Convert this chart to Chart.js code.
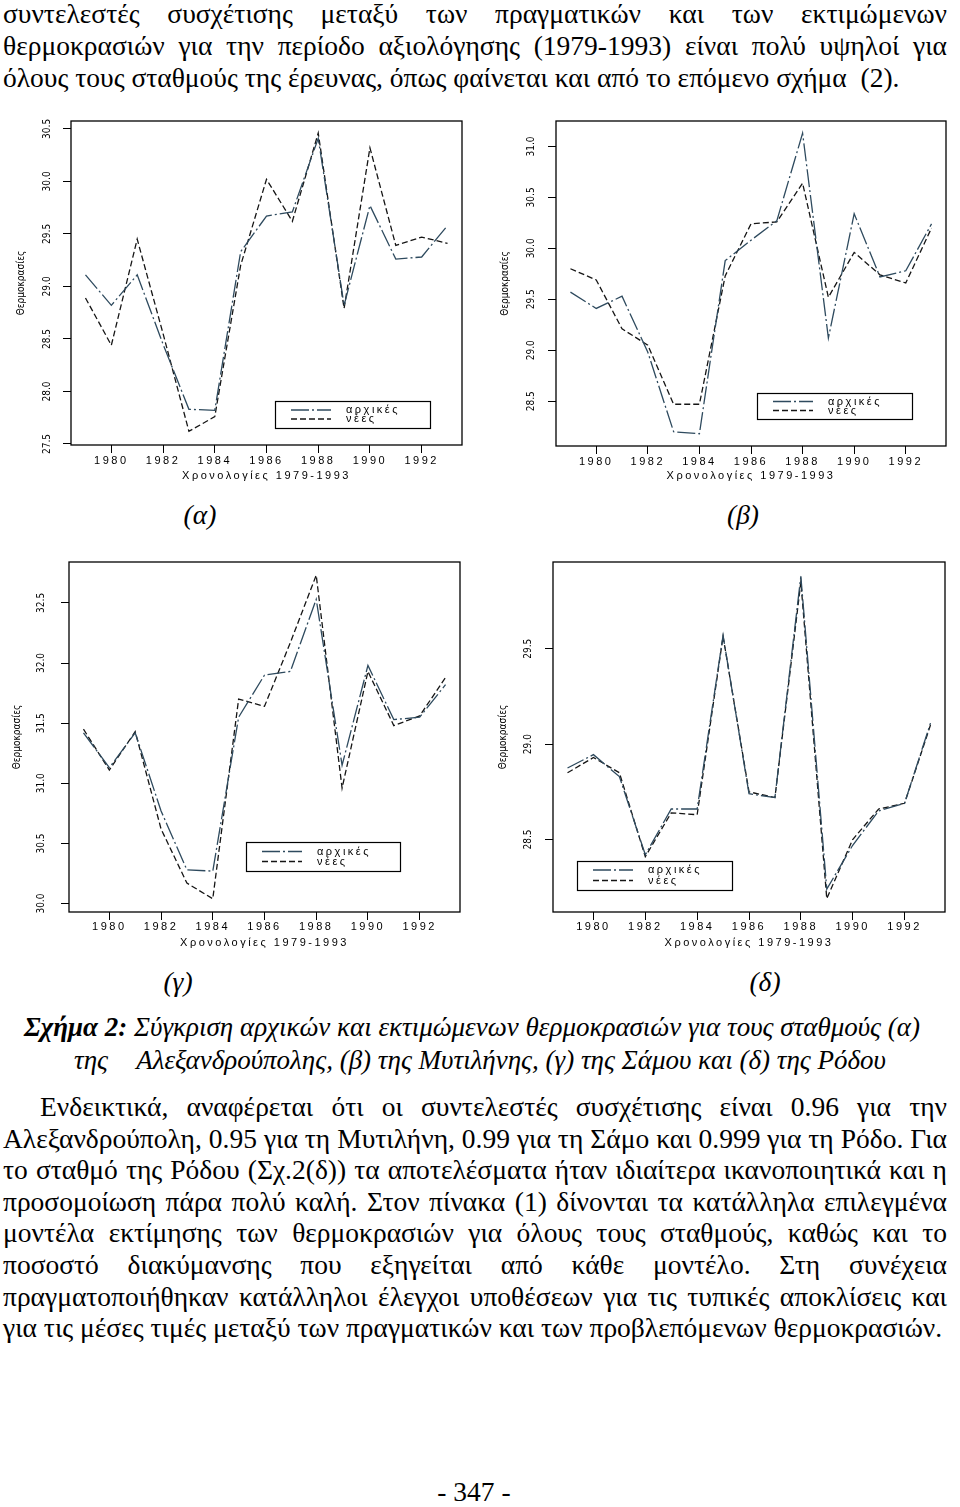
<!DOCTYPE html>
<html>
<head>
<meta charset="utf-8">
<script src="https://cdn.jsdelivr.net/npm/chart.js@4/dist/chart.umd.min.js"></script>
<style>
  html, body { margin: 0; padding: 0; background: #fff; }
  body { position: relative; width: 960px; height: 1507px; overflow: hidden;
         font-family: 'Liberation Serif', 'Times New Roman', serif; font-size: 27.5px; color: #000; }
  .t { position: absolute; line-height: 32px; }
  .j { text-align: justify; text-align-last: justify; }
  .c { text-align: center; }
  .i { font-style: italic; }
  .cap { font-size: 27px; }
  .plot { position: absolute; }
</style>
</head>
<body>

<div class="t j" style="left:3px; top:-2px; width:944px;">συντελεστές συσχέτισης μεταξύ των πραγματικών και των εκτιμώμενων</div>
<div class="t j" style="left:3px; top:30px; width:944px;">θερμοκρασιών για την περίοδο αξιολόγησης (1979-1993) είναι πολύ υψηλοί για</div>
<div class="t" style="left:3px; top:62px; width:950px;">όλους τους σταθμούς της έρευνας, όπως φαίνεται και από το επόμενο σχήμα &nbsp;(2).</div>

<div class="plot" style="left:0; top:110px;"><canvas id="chartA" width="480" height="380"></canvas></div>
<div class="plot" style="left:480px; top:110px;"><canvas id="chartB" width="480" height="380"></canvas></div>

<div class="t c i" style="left:150px; top:499px; width:100px;">(α)</div>
<div class="t c i" style="left:693px; top:499px; width:100px;">(β)</div>

<div class="plot" style="left:0; top:555px;"><canvas id="chartC" width="480" height="400"></canvas></div>
<div class="plot" style="left:480px; top:555px;"><canvas id="chartD" width="480" height="400"></canvas></div>

<div class="t c i" style="left:128px; top:966px; width:100px;">(γ)</div>
<div class="t c i" style="left:715px; top:966px; width:100px;">(δ)</div>

<div class="t c i cap" style="left:0; top:1011px; width:944px;"><b>Σχήμα 2:</b> Σύγκριση αρχικών και εκτιμώμενων θερμοκρασιών για τους σταθμούς (α)</div>
<div class="t c i cap" style="left:0; top:1044px; width:960px;">της<span style="display:inline-block; width:22px;"></span> Αλεξανδρούπολης, (β) της Μυτιλήνης, (γ) της Σάμου και (δ) της Ρόδου</div>

<div class="t j" style="left:40px; top:1091px; width:907px;">Ενδεικτικά, αναφέρεται ότι οι συντελεστές συσχέτισης είναι 0.96 για την</div>
<div class="t j" style="left:3px; top:1123px; width:944px;">Αλεξανδρούπολη, 0.95 για τη Μυτιλήνη, 0.99 για τη Σάμο και 0.999 για τη Ρόδο. Για</div>
<div class="t j" style="left:3px; top:1154px; width:944px;">το σταθμό της Ρόδου (Σχ.2(δ)) τα αποτελέσματα ήταν ιδιαίτερα ικανοποιητικά και η</div>
<div class="t j" style="left:3px; top:1186px; width:944px;">προσομοίωση πάρα πολύ καλή. Στον πίνακα (1) δίνονται τα κατάλληλα επιλεγμένα</div>
<div class="t j" style="left:3px; top:1217px; width:944px;">μοντέλα εκτίμησης των θερμοκρασιών για όλους τους σταθμούς, καθώς και το</div>
<div class="t j" style="left:3px; top:1249px; width:944px;">ποσοστό διακύμανσης που εξηγείται από κάθε μοντέλο. Στη συνέχεια</div>
<div class="t j" style="left:3px; top:1281px; width:944px;">πραγματοποιήθηκαν κατάλληλοι έλεγχοι υποθέσεων για τις τυπικές αποκλίσεις και</div>
<div class="t" style="left:3px; top:1312px; width:955px;">για τις μέσες τιμές μεταξύ των πραγματικών και των προβλεπόμενων θερμοκρασιών.</div>

<div class="t c" style="left:374px; top:1476px; width:200px;">- 347 -</div>

<script>
var years = [1979, 1980, 1981, 1982, 1983, 1984, 1985, 1986, 1987, 1988, 1989, 1990, 1991, 1992, 1993];
var xTicks = [1980, 1982, 1984, 1986, 1988, 1990, 1992];

// (α) Αλεξανδρούπολη
var alexArx = [29.11, 28.82, 29.11, 28.45, 27.83, 27.82, 29.33, 29.67, 29.71, 30.41, 28.82, 29.77, 29.26, 29.28, 29.58];
var alexNees = [28.89, 28.44, 29.45, 28.55, 27.62, 27.76, 29.20, 30.02, 29.62, 30.46, 28.79, 30.32, 29.39, 29.47, 29.41];
var alexTicks = [27.5, 28.0, 28.5, 29.0, 29.5, 30.0, 30.5];

// (β) Μυτιλήνη
var mytArx = [29.57, 29.41, 29.53, 28.98, 28.20, 28.18, 29.88, 30.08, 30.27, 31.13, 29.12, 30.34, 29.72, 29.78, 30.24];
var mytNees = [29.80, 29.69, 29.21, 29.05, 28.47, 28.47, 29.73, 30.24, 30.26, 30.64, 29.52, 29.96, 29.74, 29.66, 30.20];
var mytTicks = [28.5, 29.0, 29.5, 30.0, 30.5, 31.0];

// (γ) Σάμος
var samArx = [31.42, 31.13, 31.42, 30.77, 30.28, 30.27, 31.55, 31.90, 31.93, 32.53, 31.15, 31.98, 31.53, 31.55, 31.82];
var samNees = [31.45, 31.11, 31.43, 30.62, 30.17, 30.04, 31.70, 31.64, 32.17, 32.73, 30.96, 31.93, 31.48, 31.56, 31.88];
var samTicks = [30.0, 30.5, 31.0, 31.5, 32.0, 32.5];

// (δ) Ρόδος
var rodArx = [28.875, 28.945, 28.83, 28.42, 28.66, 28.66, 29.57, 28.74, 28.72, 29.88, 28.24, 28.47, 28.65, 28.69, 29.11];
var rodNees = [28.85, 28.93, 28.85, 28.41, 28.64, 28.63, 29.565, 28.75, 28.72, 29.85, 28.19, 28.50, 28.66, 28.69, 29.10];
var rodTicks = [28.5, 29.0, 29.5];

var narrow = "'Liberation Sans Narrow', 'DejaVu Sans Condensed', sans-serif";
var sans = "'Liberation Sans', Arial, sans-serif";

// box round the plot, the legend box, and wide letter spacing for x axis text
var framePlugin = {
  id: 'frame',
  afterDatasetsDraw: function(chart) {
    chart.ctx.letterSpacing = '2.5px';
  },
  afterDraw: function(chart, args, opts) {
    var ctx = chart.ctx, a = chart.chartArea, L = opts.legend;
    ctx.save();
    ctx.strokeStyle = '#000';
    ctx.lineWidth = 1.3;
    ctx.strokeRect(a.left, a.top, a.right - a.left, a.bottom - a.top);

    ctx.fillStyle = '#fff';
    ctx.fillRect(L.x, L.y, L.w, L.h);
    ctx.lineWidth = 1.2;
    ctx.strokeRect(L.x + 0.5, L.y + 0.5, L.w, L.h);
    ctx.font = '11px ' + sans;
    ctx.textBaseline = 'middle';
    chart.data.datasets.forEach(function(ds, i) {
      var yy = L.y + L.rows[i];
      ctx.strokeStyle = ds.borderColor;
      ctx.lineWidth = ds.borderWidth;
      ctx.setLineDash(ds.borderDash || []);
      ctx.beginPath();
      ctx.moveTo(L.x + 16, yy);
      ctx.lineTo(L.x + 56, yy);
      ctx.stroke();
      ctx.setLineDash([]);
      ctx.fillStyle = '#000';
      ctx.fillText(ds.label, L.x + 71, yy);
    });
    ctx.restore();
    ctx.letterSpacing = '0px';
  }
};

function points(vals) {
  return years.map(function(yr, i) { return {x: yr, y: vals[i]}; });
}

function makeChart(id, arx, nees, yTicks, c) {
  var ctx = document.getElementById(id).getContext('2d');
  return new Chart(ctx, {
    type: 'line',
    data: {
      datasets: [{
        label: 'αρχικές',
        data: points(arx),
        borderColor: '#2e4a5e',
        borderWidth: 1.3,
        borderDash: [18, 3, 2, 3],
        pointRadius: 0,
        fill: false,
        tension: 0
      }, {
        label: 'νέες',
        data: points(nees),
        borderColor: '#151515',
        borderWidth: 1.3,
        borderDash: [6, 3],
        pointRadius: 0,
        fill: false,
        tension: 0
      }]
    },
    options: {
      responsive: false,
      animation: false,
      devicePixelRatio: 1,
      layout: { padding: { top: c.area.t, right: c.w - c.area.r, bottom: 0, left: 0 } },
      plugins: {
        legend: { display: false },
        tooltip: { enabled: false },
        frame: { legend: c.legend }
      },
      scales: {
        x: {
          type: 'linear',
          min: 1978.44,
          max: 1993.56,
          afterBuildTicks: function(s) { s.ticks = xTicks.map(function(v) { return {value: v}; }); },
          afterFit: function(s) { s.height = c.h - c.area.b; s.paddingLeft = 0; s.paddingRight = 0; },
          border: { display: false },
          grid: { drawOnChartArea: false, tickLength: 8, color: '#000', z: 1 },
          ticks: {
            z: 1, autoSkip: false, maxRotation: 0, padding: c.xLabPad, color: '#000',
            font: { family: sans, size: 11 },
            callback: function(v) { return String(v); }
          },
          title: {
            display: true, text: 'Χρονολογίες 1979-1993', color: '#000',
            font: { family: sans, size: 11 },
            padding: { top: 0, bottom: c.xTitlePad }
          }
        },
        y: {
          min: c.yMin,
          max: c.yMax,
          afterBuildTicks: function(s) { s.ticks = yTicks.map(function(v) { return {value: v}; }); },
          afterFit: function(s) { s.width = c.area.l; s.paddingTop = 0; s.paddingBottom = 0; },
          border: { display: false },
          grid: { drawOnChartArea: false, tickLength: 8, color: '#000' },
          ticks: {
            minRotation: 90, maxRotation: 90, crossAlign: 'center',
            padding: c.yLabPad, color: '#000',
            font: { family: narrow, size: 10 },
            callback: function(v) { return v.toFixed(1); }
          },
          title: {
            display: true, text: 'Θερμοκρασίες', color: '#000',
            font: { family: narrow, size: 10 },
            padding: { top: c.yTitlePad, bottom: 0 }
          }
        }
      }
    },
    plugins: [framePlugin]
  });
}

makeChart('chartA', alexArx, alexNees, alexTicks, {
  w: 480, h: 380, yMin: 27.49, yMax: 30.575,
  area: { l: 71, t: 11, r: 462, b: 335 },
  yLabPad: 6, yTitlePad: 15, xLabPad: 1, xTitlePad: 7.4,
  legend: { x: 275, y: 291, w: 155, h: 27, rows: [9, 18] }
});
makeChart('chartB', mytArx, mytNees, mytTicks, {
  w: 480, h: 380, yMin: 28.06, yMax: 31.25,
  area: { l: 76, t: 11, r: 466, b: 336 },
  yLabPad: 7, yTitlePad: 19, xLabPad: 1, xTitlePad: 7.4,
  legend: { x: 277, y: 283, w: 155, h: 26, rows: [8.5, 17.5] }
});
makeChart('chartC', samArx, samNees, samTicks, {
  w: 480, h: 400, yMin: 29.93, yMax: 32.84,
  area: { l: 69, t: 7, r: 460, b: 357 },
  yLabPad: 9.5, yTitlePad: 11, xLabPad: 0, xTitlePad: 5.4,
  legend: { x: 246, y: 287, w: 154, h: 29, rows: [9.5, 19.5] }
});
makeChart('chartD', rodArx, rodNees, rodTicks, {
  w: 480, h: 400, yMin: 28.12, yMax: 29.955,
  area: { l: 73, t: 7, r: 465, b: 357 },
  yLabPad: 7, yTitlePad: 17, xLabPad: 0, xTitlePad: 5.4,
  legend: { x: 97, y: 306, w: 155, h: 29, rows: [9, 19.5] }
});
</script>
</body>
</html>
